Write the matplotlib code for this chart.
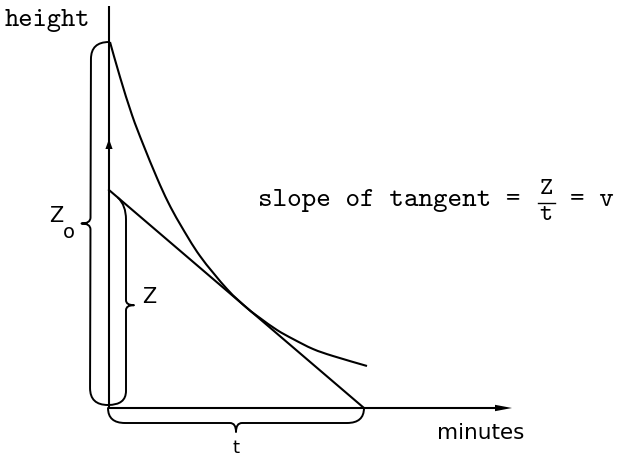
import numpy as np
import matplotlib
matplotlib.use("Agg")
import matplotlib.pyplot as plt
from matplotlib.path import Path
from matplotlib.patches import PathPatch, Polygon

# --- diagram values (minutes along x, height along y) ---
minutes_axis_end = 403
height_axis_end = 402
z0 = 366          # initial height
z = 218           # tangent intercept on the height axis
t = 255           # tangent intercept on the minutes axis

curve_minutes = [1, 11, 23, 34, 48, 59, 71, 91, 118, 138, 151, 168, 184, 204, 224, 258]
curve_height = [366, 331, 293, 264, 230, 206, 184, 152, 119, 100, 90, 78, 69, 59, 52, 42]

LW = 1.5
INK = "black"

fig = plt.figure(figsize=(6.18, 4.57), dpi=100)
ax = fig.add_axes([0, 0, 1, 1])
ax.set_xlim(-109, 509)
ax.set_ylim(-49, 408)
ax.axis("off")


def smooth_path(xs, ys):
    """Cubic Bezier path passing through every given point (Catmull-Rom)."""
    p = np.column_stack([xs, ys]).astype(float)
    ext = np.vstack([p[0], p, p[-1]])
    verts = [p[0]]
    codes = [Path.MOVETO]
    for i in range(1, len(ext) - 2):
        a, b, c, d = ext[i - 1], ext[i], ext[i + 1], ext[i + 2]
        verts += [b + (c - a) / 6.0, c - (d - b) / 6.0, c]
        codes += [Path.CURVE4] * 3
    return Path(verts, codes)


# axes
ax.plot([0, 0], [0, height_axis_end], color=INK, lw=LW, solid_capstyle="butt")
ax.plot([0, minutes_axis_end - 10], [0, 0], color=INK, lw=LW, solid_capstyle="butt")
ax.add_patch(Polygon([[minutes_axis_end, 0], [minutes_axis_end - 17, 3.2], [minutes_axis_end - 17, -3.2]],
                     closed=True, color=INK, lw=0))
arrow_y = 269
ax.add_patch(Polygon([[0, arrow_y], [-3.6, arrow_y - 10], [3.6, arrow_y - 10]],
                     closed=True, color=INK, lw=0))

# decay curve and its tangent
ax.add_patch(PathPatch(smooth_path(curve_minutes, curve_height), fill=False,
                       color=INK, lw=LW))
ax.plot([0, t], [z, 0], color=INK, lw=LW)


def brace(p0, p1, normal, depth, radius, tip, cusp, top_end=None):
    p0 = np.asarray(p0, float)
    p1 = np.asarray(p1, float)
    L = np.hypot(*(p1 - p0))
    d = (p1 - p0) / L
    n = np.asarray(normal, float)

    def P(u, w):
        return p0 + u * d + w * n

    verts = [P(0, 0), P(0, depth), P(radius, depth),
             P(L / 2 - cusp, depth),
             P(L / 2, depth), P(L / 2, depth + tip),
             P(L / 2, depth), P(L / 2 + cusp, depth),
             P(L - radius, depth)]
    codes = [Path.MOVETO, Path.CURVE3, Path.CURVE3, Path.LINETO,
             Path.CURVE3, Path.CURVE3, Path.CURVE3, Path.CURVE3,
             Path.LINETO]
    if top_end is None:
        verts += [P(L, depth), P(L, 0)]
    else:
        verts += [P(L, depth), np.asarray(top_end, float)]
    codes += [Path.CURVE3, Path.CURVE3]
    ax.add_patch(PathPatch(Path(verts, codes), fill=False, color=INK, lw=1.4,
                           capstyle="round", joinstyle="round"))


brace((-1, 3), (0, z0), (-1, 0), 18, 17, 9, 6)
# the Z brace closes onto the tangent line just right of the axis
slope = z / t
z_top = z - 18 * slope
brace((-1, 3), (-1, z_top), (1, 0), 18, 14, 8, 5,
      top_end=(9, z - 9 * slope))
brace((-1, 0), (t, 0), (0, -1), 15, 17, 9, 6)

mono = "cmtt10"
sans = "DejaVu Sans"

ax.text(-104, 387, "height", family=mono, fontsize=19.5, va="center", ha="left")
ax.text(149, 202, "slope of tangent =", family=mono, fontsize=20, va="baseline", ha="left")
ax.text(437, 218, "Z", family=mono, fontsize=18, va="center", ha="center")
ax.plot([429, 446], [205, 205], color=INK, lw=1.0)
ax.text(437, 192, "t", family=mono, fontsize=18, va="center", ha="center")
ax.text(461, 202, "= v", family=mono, fontsize=20, va="baseline", ha="left")

ax.text(328, -31, "minutes", family=sans, fontsize=15.5, va="baseline", ha="left")
ax.text(40, 111, "Z", family=sans, fontsize=15, va="center", ha="center")
ax.text(-53, 192, "Z", family=sans, fontsize=15, va="center", ha="center")
ax.text(-40, 175, "o", family=sans, fontsize=14, va="center", ha="center")
ax.text(127, -40, "t", family=sans, fontsize=13, va="center", ha="center")

fig.savefig("out.png", dpi=100)
